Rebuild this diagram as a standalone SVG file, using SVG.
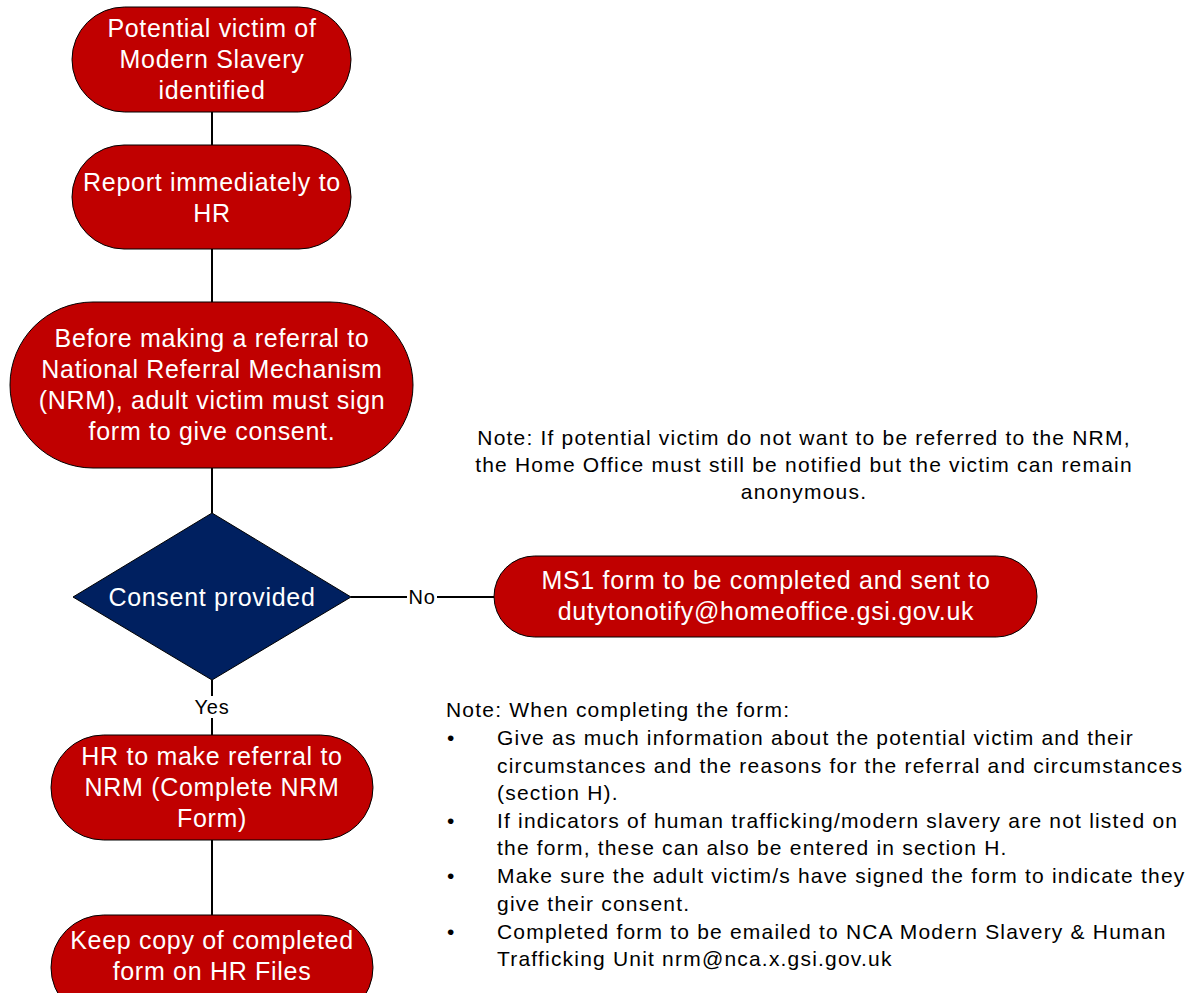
<svg xmlns="http://www.w3.org/2000/svg" width="1192" height="993" viewBox="0 0 1192 993">
<style>
.n{fill:#c00000;stroke:#000;stroke-width:1}
.d{fill:#002060;stroke:#000;stroke-width:1}
.t{font-family:"Liberation Sans",Arial,sans-serif;font-size:25px;letter-spacing:0.7px;fill:#fff;text-anchor:middle}
.c{stroke:#000;stroke-width:2;fill:none}
.l{font-family:"Liberation Sans",Arial,sans-serif;font-size:21px;letter-spacing:1.2px;fill:#000}
.k{font-family:"Liberation Sans",Arial,sans-serif;font-size:20px;letter-spacing:0.8px;fill:#000;text-anchor:middle}
.m{text-anchor:middle}
</style>
<rect width="1192" height="993" fill="#fff"/>
<g id="connectors">
<line class="c" x1="212" y1="112" x2="212" y2="145"/>
<line class="c" x1="212" y1="249" x2="212" y2="302"/>
<line class="c" x1="212" y1="468" x2="212" y2="513"/>
<line class="c" x1="351" y1="597" x2="494" y2="597"/>
<line class="c" x1="212" y1="680" x2="212" y2="735"/>
<line class="c" x1="212" y1="840" x2="212" y2="915"/>
<rect x="407" y="586" width="30" height="22" fill="#fff"/>
<text class="k" x="422" y="604">No</text>
<rect x="192" y="696" width="40" height="22" fill="#fff"/>
<text class="k" x="212" y="714">Yes</text>
</g>
<g id="n1">
<rect class="n" x="72" y="7" width="279" height="105" rx="52.5"/>
<text class="t" x="212" y="37">Potential victim of</text>
<text class="t" x="212" y="68">Modern Slavery</text>
<text class="t" x="212" y="99">identified</text>
</g>
<g id="n2">
<rect class="n" x="72" y="145" width="279" height="104" rx="52"/>
<text class="t" x="212" y="191">Report immediately to</text>
<text class="t" x="212" y="222">HR</text>
</g>
<g id="n3">
<rect class="n" x="10" y="302" width="403" height="166" rx="83"/>
<text class="t" x="212" y="347">Before making a referral to</text>
<text class="t" x="212" y="378">National Referral Mechanism</text>
<text class="t" x="212" y="409">(NRM), adult victim must sign</text>
<text class="t" x="212" y="440">form to give consent.</text>
</g>
<g id="n4">
<polygon class="d" points="212,513 351,597 212,680 73,597"/>
<text class="t" x="212" y="606">Consent provided</text>
</g>
<g id="n5">
<rect class="n" x="494" y="556" width="543" height="81" rx="40.5"/>
<text class="t" x="766" y="589">MS1 form to be completed and sent to</text>
<text class="t" x="766" y="620">dutytonotify@homeoffice.gsi.gov.uk</text>
</g>
<g id="n6">
<rect class="n" x="51" y="735" width="322" height="105" rx="52.5"/>
<text class="t" x="212" y="765">HR to make referral to</text>
<text class="t" x="212" y="796">NRM (Complete NRM</text>
<text class="t" x="212" y="827">Form)</text>
</g>
<g id="n7">
<rect class="n" x="51" y="915" width="322" height="105" rx="52.5"/>
<text class="t" x="212" y="949">Keep copy of completed</text>
<text class="t" x="212" y="980">form on HR Files</text>
</g>
<g id="note1">
<text class="l m" x="804" y="445">Note: If potential victim do not want to be referred to the NRM,</text>
<text class="l m" x="804" y="472">the Home Office must still be notified but the victim can remain</text>
<text class="l m" x="804" y="499">anonymous.</text>
</g>
<g id="note2" class="l">
<text x="446" y="717">Note: When completing the form:</text>
<text x="447" y="745">•</text>
<text x="497" y="745">Give as much information about the potential victim and their</text>
<text x="497" y="773">circumstances and the reasons for the referral and circumstances</text>
<text x="497" y="800">(section H).</text>
<text x="447" y="828">•</text>
<text x="497" y="828">If indicators of human trafficking/modern slavery are not listed on</text>
<text x="497" y="855">the form, these can also be entered in section H.</text>
<text x="447" y="883">•</text>
<text x="497" y="883">Make sure the adult victim/s have signed the form to indicate they</text>
<text x="497" y="911">give their consent.</text>
<text x="447" y="939">•</text>
<text x="497" y="939">Completed form to be emailed to NCA Modern Slavery &amp; Human</text>
<text x="497" y="966">Trafficking Unit nrm@nca.x.gsi.gov.uk</text>
</g>
</svg>
